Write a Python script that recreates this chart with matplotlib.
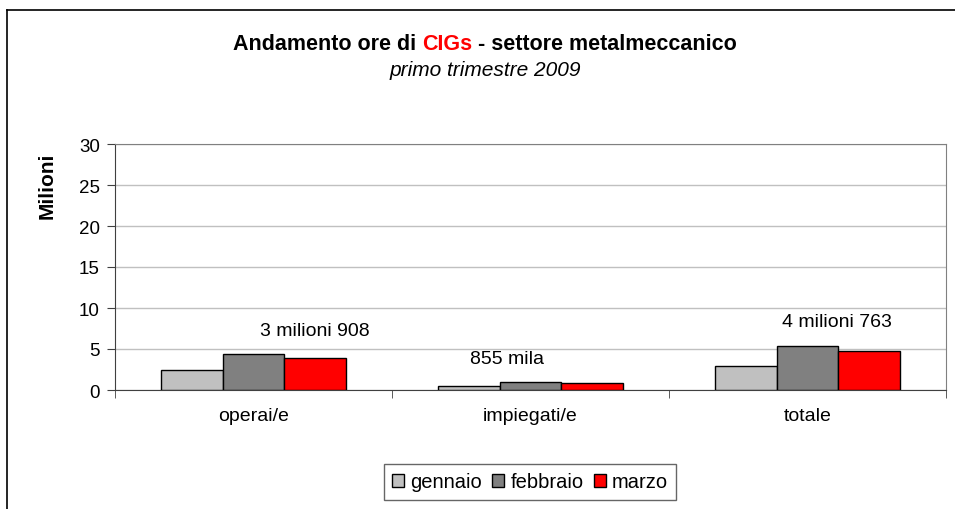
import numpy as np
import matplotlib.pyplot as plt
from matplotlib.lines import Line2D
from matplotlib.patches import Patch

plt.rcParams['font.family'] = ['Liberation Sans', 'DejaVu Sans']

# Dati (milioni di ore)
categorie = ['operai/e', 'impiegati/e', 'totale']
mesi = ['gennaio', 'febbraio', 'marzo']
gennaio = [2.45, 0.47, 2.92]
febbraio = [4.45, 0.96, 5.41]
marzo = [3.908, 0.855, 4.763]
etichette = ['3 milioni 908', '855 mila', '4 milioni 763']
colori = ['#C0C0C0', '#808080', '#FF0000']

fig = plt.figure(figsize=(9.55, 5.10), dpi=100)
ax = fig.add_axes([115 / 955, 1 - 391 / 510, 831 / 955, 246 / 510])

x = np.arange(len(categorie))
w = 1 / 4.5
for i, (serie, col) in enumerate(zip([gennaio, febbraio, marzo], colori)):
    ax.bar(x + (i - 1) * w, serie, width=w, color=col, edgecolor='black',
           linewidth=1, zorder=3)

# etichette dei valori
ax.text(0.22, 7.3, etichette[0], ha='center', va='center', fontsize=14)
ax.text(0.915, 3.9, etichette[1], ha='center', va='center', fontsize=14)
ax.text(2.106, 8.3, etichette[2], ha='center', va='center', fontsize=14)

ax.set_xlim(-0.5, 2.5)
ax.set_ylim(0, 30)
ax.set_yticks(np.arange(0, 31, 5))
ax.yaxis.grid(True, color='#C0C0C0', linewidth=1, zorder=0)
ax.set_xticks(x)
ax.set_xticklabels(categorie, fontsize=14)
ax.set_xticks([-0.5, 0.5, 1.5, 2.5], minor=True)
ax.tick_params(axis='x', which='major', length=0, pad=12)
ax.tick_params(axis='x', which='minor', length=6, color='#404040')
ax.tick_params(axis='y', labelsize=13.5, length=6, color='#404040', pad=5)
for s in ['top', 'right']:
    ax.spines[s].set_color('#808080')
for s in ['left', 'bottom']:
    ax.spines[s].set_color('#404040')

fig.text(47 / 955, 1 - 186 / 510, 'Milioni', rotation=90, fontsize=15,
         fontweight='bold', ha='center', va='center')

# titolo con "CIGs" in rosso
renderer = fig.canvas.get_renderer()
parti = [('Andamento ore di ', 'black'), ('CIGs', 'red'),
         (' - settore metalmeccanico', 'black')]
txts = []
for testo, col in parti:
    t = fig.text(0, 1 - 44 / 510, testo, fontsize=15.5, fontweight='bold',
                 color=col, ha='left', va='center')
    txts.append(t)
larghezze = [t.get_window_extent(renderer).width for t in txts]
tot = sum(larghezze)
xpos = 485 - tot / 2
for t, lw in zip(txts, larghezze):
    t.set_x(xpos / 955)
    xpos += lw
fig.text(485 / 955, 1 - 71 / 510, 'primo trimestre 2009', fontsize=15,
         style='italic', ha='center', va='center')

# legenda
handles = [Patch(facecolor=c, edgecolor='black', linewidth=1) for c in colori]
leg = fig.legend(handles, mesi, loc='center', bbox_to_anchor=(530 / 955, 1 - 483 / 510),
                 ncol=3, fontsize=14.5, frameon=True, fancybox=False,
                 handlelength=0.6, handleheight=0.6, handletextpad=0.3,
                 columnspacing=0.5, borderpad=0.4)
leg.get_frame().set_edgecolor('#404040')
leg.get_frame().set_linewidth(1)

# bordo del grafico
fig.add_artist(Line2D([7 / 955, 7 / 955], [0, 1 - 11 / 510], color='black',
                      linewidth=1.2, transform=fig.transFigure))
fig.add_artist(Line2D([7 / 955, 1], [1 - 11 / 510, 1 - 11 / 510], color='black',
                      linewidth=1.2, transform=fig.transFigure))

fig.savefig('out.png', dpi=100)
